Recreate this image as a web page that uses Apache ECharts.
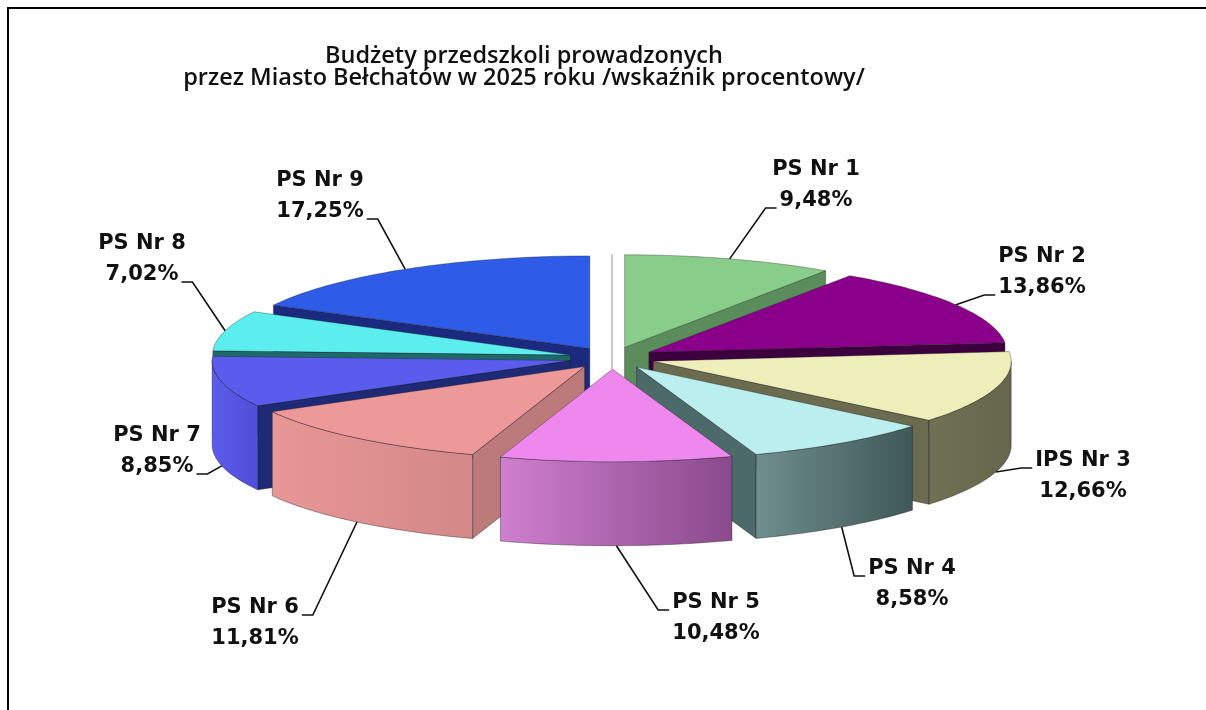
<!DOCTYPE html>
<html>
<head>
<meta charset="utf-8">
<script src="https://cdn.jsdelivr.net/npm/echarts@6/dist/echarts.min.js"></script>
<style>
html,body{margin:0;padding:0;background:#fff;}
#chart{width:1206px;height:710px;}
</style>
</head>
<body>
<div id="chart"></div>
<script>
// ---------------- data ----------------
const categories = ['PS Nr 1','PS Nr 2','IPS Nr 3','PS Nr 4','PS Nr 5','PS Nr 6','PS Nr 7','PS Nr 8','PS Nr 9'];
const shares = [9.48, 13.86, 12.66, 8.58, 10.48, 11.81, 8.85, 7.02, 17.25];
const titleText = 'Budżety przedszkoli prowadzonych\nprzez Miasto Bełchatów w 2025 roku /wskaźnik procentowy/';

// ---------------- styles ----------------
const topColors  = ['#88CE8A','#8B008B','#EEEEBB','#BBEEEE','#EE88EE','#EE9999','#5B5BEE','#5CEEEE','#2E5BE8'];
const faceColors = ['#5B8C5C','#3D003F','#6B6B50','#4D6A6A','#9A559A','#BC7A7A','#1F2A77','#1E6A6A','#1B2A7E'];
const wallColors = [
  ['#6E9E6E','#5B8C5C'],['#5A0A5A','#3D003F'],['#707055','#66664C'],['#6F8E8E','#3F5858'],
  ['#CF7FCF','#8A4A8C'],['#E89696','#D48888'],['#5C5CEC','#4E4ED8'],['#2A8080','#1E6A6A'],['#2444B0','#1B2A7E']
];
const labelFont = 'bold 21px "DejaVu Sans"';

// ---------------- layout ----------------
const L = {cx: 612, cy: 358, rx: 358, ry: 92.6, h: 84, ex: 43, ey: 11.1};
// label block: [centre x, first-line baseline]
const labelPlace = [[816,176],[1042,263],[1083,467],[912,575],[716,609],[255,614],[157,442],[142,250],[320,187]];
const lineGap = 31;

// ---------------- geometry from data ----------------
const total = shares.reduce((a, b) => a + b, 0);
let acc = 0;
const slices = shares.map(v => {
  const a0 = acc / total * 2 * Math.PI; acc += v;
  const a1 = acc / total * 2 * Math.PI;
  return {a0, a1, m: (a0 + a1) / 2};
});
const depthOrder = slices.map((s, i) => i).sort((p, q) => (-Math.cos(slices[p].m)) - (-Math.cos(slices[q].m)));
const rank = []; depthOrder.forEach((idx, r) => rank[idx] = r);

function off(i) { const m = slices[i].m; return [L.ex * Math.sin(m), -L.ey * Math.cos(m)]; }
function pt(i, t, down) { const o = off(i); return [L.cx + o[0] + L.rx * Math.sin(t), L.cy + o[1] - L.ry * Math.cos(t) + (down ? L.h : 0)]; }
function ctr(i, down) { const o = off(i); return [L.cx + o[0], L.cy + o[1] + (down ? L.h : 0)]; }
function arc(i, t0, t1, down) {
  const n = Math.max(4, Math.ceil(Math.abs(t1 - t0) / 0.02));
  const out = [];
  for (let k = 0; k <= n; k++) out.push(pt(i, t0 + (t1 - t0) * k / n, down));
  return out;
}

const measureCtx = document.createElement('canvas').getContext('2d');
function textW(s) { measureCtx.font = labelFont; return measureCtx.measureText(s).width; }
function fmt(v) { return v.toFixed(2).replace('.', ',') + '%'; }

const edgeStroke = 'rgba(20,20,20,0.55)';

function renderItem(params, api) {
  const i = params.dataIndex;
  const s = slices[i];
  const z = rank[i] * 10 + 10;
  const children = [];
  // radial side faces
  const faceAngles = [];
  if (Math.sin(s.a0) < -1e-6) faceAngles.push(s.a0);
  if (Math.sin(s.a1) > 1e-6) faceAngles.push(s.a1);
  faceAngles.forEach(a => {
    children.push({type: 'polygon', z2: z,
      shape: {points: [ctr(i, false), pt(i, a, false), pt(i, a, true), ctr(i, true)]},
      style: {fill: faceColors[i], stroke: edgeStroke, lineWidth: 0.7}});
  });
  // outer wall (front half only)
  const t0 = Math.max(s.a0, Math.PI / 2), t1 = Math.min(s.a1, Math.PI * 1.5);
  if (t1 > t0) {
    const pts = arc(i, t0, t1, false).concat(arc(i, t1, t0, true));
    children.push({type: 'polygon', z2: z + 1,
      shape: {points: pts},
      style: {fill: new echarts.graphic.LinearGradient(0, 0, 1, 0, [
        {offset: 0, color: wallColors[i][0]}, {offset: 1, color: wallColors[i][1]}]),
        stroke: edgeStroke, lineWidth: 0.7}});
  }
  // top face
  children.push({type: 'polygon', z2: z + 2,
    shape: {points: [ctr(i, false)].concat(arc(i, s.a0, s.a1, false))},
    style: {fill: topColors[i], stroke: edgeStroke, lineWidth: 0.6}});

  // label + leader
  const lines = [categories[i], fmt(api.value(0))];
  const [lx, ly] = labelPlace[i];
  const front = Math.cos(s.m) < 0;
  const A = front ? pt(i, s.m, true) : pt(i, s.m, false);
  const baselines = [ly, ly + lineGap];
  const li = Math.abs(baselines[0] - A[1]) < Math.abs(baselines[1] - A[1]) ? 0 : 1;
  const w = textW(lines[li]);
  const leftSide = lx > A[0];
  const ex = leftSide ? lx - w / 2 - 3 : lx + w / 2 + 3;
  const sx = leftSide ? ex - 11 : ex + 11;
  const yy = baselines[li] + 1;
  children.push({type: 'polyline', z2: 1000,
    shape: {points: [A, [sx, yy], [ex, yy]]},
    style: {stroke: '#111', lineWidth: 1.6, fill: null}});
  lines.forEach((t, k) => {
    children.push({type: 'text', z2: 1001,
      style: {text: t, x: lx, y: baselines[k] - 6.5, font: labelFont, fill: '#111',
        align: 'center', verticalAlign: 'middle'}});
  });
  return {type: 'group', children};
}

const chart = echarts.init(document.getElementById('chart'), null, {renderer: 'canvas'});
chart.setOption({
  backgroundColor: '#fff',
  animation: false,
  title: {
    text: titleText, left: 519, top: 40, textAlign: 'center',
    textStyle: {fontFamily: '"Open Sans"', fontWeight: 600, fontSize: 23.5, lineHeight: 22, color: '#111'}
  },
  graphic: [
    {type: 'line', shape: {x1: 7, y1: 8, x2: 1206, y2: 8}, style: {stroke: '#000', lineWidth: 2}},
    {type: 'line', shape: {x1: 8, y1: 7, x2: 8, y2: 710}, style: {stroke: '#000', lineWidth: 2}},
    {type: 'line', z: -1, shape: {x1: L.cx, y1: L.cy - L.ry - L.ey, x2: L.cx, y2: L.cy + L.ey}, style: {stroke: '#BBBBBB', lineWidth: 1.5}}
  ],
  series: [{
    type: 'custom', coordinateSystem: 'none', silent: true,
    data: shares, renderItem: renderItem
  }]
});
</script>
</body>
</html>
